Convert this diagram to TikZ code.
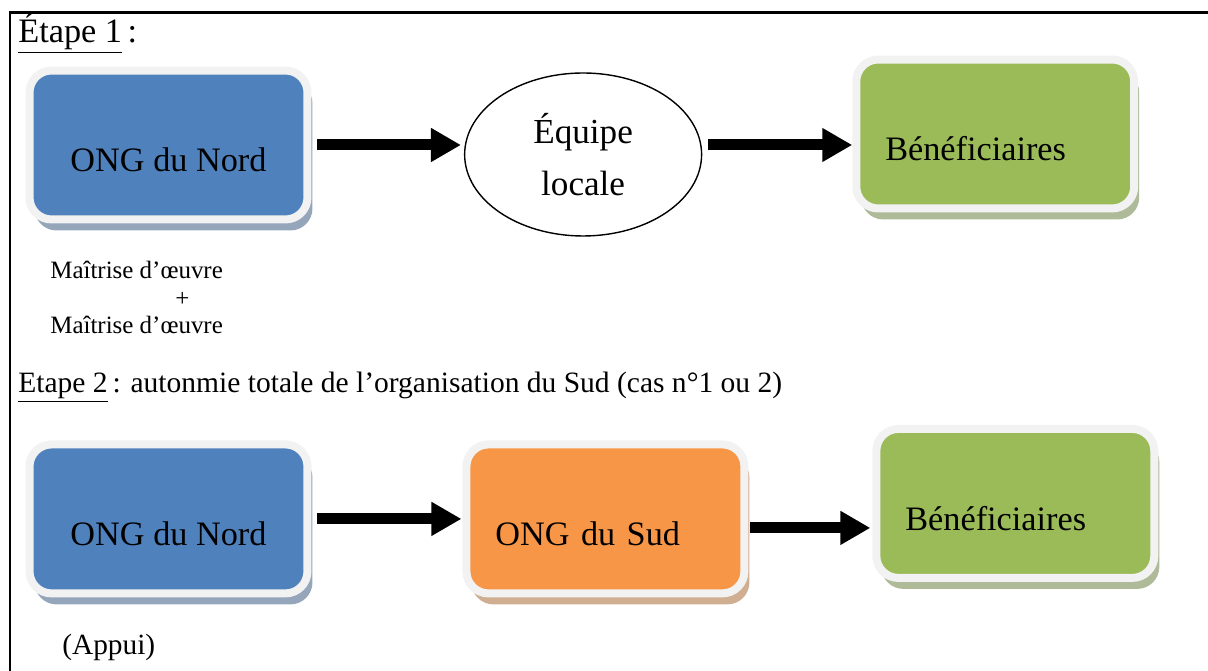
\documentclass[tikz,border=0pt]{standalone}
\usepackage{fontspec}
\setmainfont{Liberation Serif}
\usetikzlibrary{arrows.meta,positioning,calc,shapes.geometric,shadows}
\definecolor{bleuong}{HTML}{4F81BD}
\definecolor{vertben}{HTML}{9BBB59}
\definecolor{orangesud}{HTML}{F79646}
\definecolor{bordgris}{HTML}{F2F2F2}
\tikzset{
	%Define standard arrow tip
	>={Triangle[length=0.6cm,width=0.64cm]},
	%Define style for boxes
	boite/.style={
		rectangle,
		rounded corners=0.44cm,
		draw=bordgris, line width=0.16cm,
		fill=#1,
		drop shadow={shadow xshift=0.1cm, shadow yshift=-0.22cm, fill=#1!50!gray!70, opacity=1},
		minimum width=5.56cm,
		minimum height=2.98cm,
		text height=1.08cm, text depth=0pt,
		font=\fontsize{19.5}{23}\selectfont},
	gauche/.style={text width=4.4cm, align=left, inner xsep=0pt},
	%Define style for the ellipse
	bulle/.style={
		ellipse,
		draw=black, line width=0.8pt,
		minimum width=4.74cm,
		minimum height=3.26cm,
		align=center,
		font=\fontsize{20}{29.6}\selectfont},
	titre/.style={anchor=base west, inner sep=0pt},
	% Define arrow style
	fleche/.style={
		->,
		line width=0.22cm,
		shorten <=0.12cm}
}
\begin{document}
\begin{tikzpicture}[x=0.02cm, y=-0.02cm]
		\useasboundingbox (0,0) rectangle (1208,671);
		\draw[line width=0.06cm] (1208,13) -- (10,13) -- (10,671);
		% step 1
		\node[titre, font=\fontsize{19.5}{23}\selectfont] (etape1) at (18,43) {\underline{Étape 1}\,:};
		% node ONG du Nord
		\node[boite=bleuong] (nord1) at (168.5,145) {ONG du Nord};
		% node Equipe locale
		\node[bulle, right=3.05cm of nord1, yshift=-0.19cm] (equipe) {Équipe\\locale};
		% node Beneficiaires
		\node[boite=vertben, gauche, right=3cm of equipe, yshift=0.41cm] (ben1) {Bénéficiaires};
		% roles
		\node[anchor=north west, inner sep=0pt, align=left, font=\fontsize{14.2}{15.65}\selectfont] (maitrise) at (50,261) {Maîtrise d’œuvre\\\hspace*{2.5cm}+\\Maîtrise d’œuvre};
		\draw[fleche, shorten >=0.06cm] (nord1.east) -- (nord1.east -| equipe.west);
		\draw[fleche] (equipe.east |- nord1.east) -- (ben1.west |- nord1.east);
		% step 2
		\node[titre, font=\fontsize{16.8}{20}\selectfont] (etape2) at (18,393) {\underline{Etape 2}\,: autonmie totale de l’organisation du Sud (cas n°1 ou 2)};
		% node ONG du Nord
		\node[boite=bleuong, below=4.34cm of nord1] (nord2) {ONG du Nord};
		% node ONG du Sud
		\node[boite=orangesud, gauche, right=3.02cm of nord2] (sud) {ONG du Sud};
		% node Beneficiaires
		\node[boite=vertben, gauche, right=2.48cm of sud, yshift=0.31cm] (ben2) {Bénéficiaires};
		% node Appui
		\node[titre, font=\fontsize{16.7}{20}\selectfont] (appui) at (62,655) {(Appui)};
		\coordinate (depsud) at ($(sud.east)+(0,-0.18cm)$);
		\draw[fleche, shorten >=0.02cm] (nord2.east) -- (nord2.east -| sud.west);
		\draw[fleche, shorten <=0.04cm, shorten >=0.04cm] (depsud) -- (depsud -| ben2.west);
	\end{tikzpicture}
\end{document}
